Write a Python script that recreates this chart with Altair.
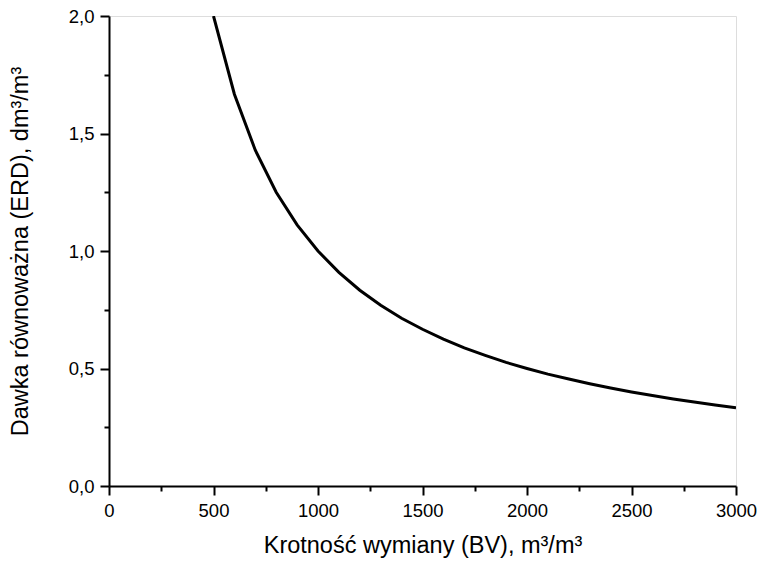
import altair as alt
import pandas as pd

bv = [500, 600, 700, 800, 900, 1000, 1100, 1200, 1300, 1400, 1500, 1600, 1700,
      1800, 1900, 2000, 2100, 2200, 2300, 2400, 2500, 2600, 2700, 2800, 2900, 3000]
erd = [2.0, 1.667, 1.429, 1.25, 1.111, 1.0, 0.909, 0.833, 0.769, 0.714, 0.667,
       0.625, 0.588, 0.556, 0.526, 0.5, 0.476, 0.455, 0.435, 0.417, 0.4, 0.385,
       0.37, 0.357, 0.345, 0.333]

x_ticks = [0, 250, 500, 750, 1000, 1250, 1500, 1750, 2000, 2250, 2500, 2750, 3000]
y_ticks = [0, 0.25, 0.5, 0.75, 1.0, 1.25, 1.5, 1.75, 2.0]

df = pd.DataFrame({"bv": bv, "erd": erd})

FONT = "Liberation Sans"

x_axis = alt.Axis(
    values=x_ticks,
    title="Krotność wymiany (BV), m³/m³",
    labelExpr="datum.value % 500 === 0 ? format(datum.value, 'd') : ''",
    tickSize={"condition": {"test": "datum.value % 500 === 0", "value": 9}, "value": 5},
    grid=False,
    domainColor="black", domainWidth=2,
    tickColor="black", tickWidth=2,
    labelColor="black", labelFont=FONT, labelFontSize=18.5, labelPadding=6,
    labelFlush=False, labelOverlap=False,
    titleColor="black", titleFont=FONT, titleFontSize=23.5, titleFontWeight="normal",
    titlePadding=14,
)
y_axis = alt.Axis(
    values=y_ticks,
    title="Dawka równoważna (ERD), dm³/m³",
    labelExpr="round(datum.value*100) % 50 === 0 ? replace(format(datum.value, '.1f'), '.', ',') : ''",
    tickSize={"condition": {"test": "round(datum.value*100) % 50 === 0", "value": 9}, "value": 5},
    grid=False,
    domainColor="black", domainWidth=2,
    tickColor="black", tickWidth=2,
    labelColor="black", labelFont=FONT, labelFontSize=18.5, labelPadding=6,
    labelFlush=False, labelOverlap=False,
    titleColor="black", titleFont=FONT, titleFontSize=23.5, titleFontWeight="normal",
    titlePadding=36,
)

chart = alt.Chart(df).mark_line(color="black", strokeWidth=3, clip=True).encode(
    x=alt.X("bv:Q", scale=alt.Scale(domain=[0, 3000], nice=False), axis=x_axis),
    y=alt.Y("erd:Q", scale=alt.Scale(domain=[0, 2.0], nice=False), axis=y_axis),
).properties(
    width=627, height=470,
    autosize="none",
    padding={"left": 109, "top": 16, "right": 23, "bottom": 76},
).configure_view(stroke="black", strokeWidth=2).configure(background="white")

chart.save("out.html", embed_options={"renderer": "svg", "actions": False})
